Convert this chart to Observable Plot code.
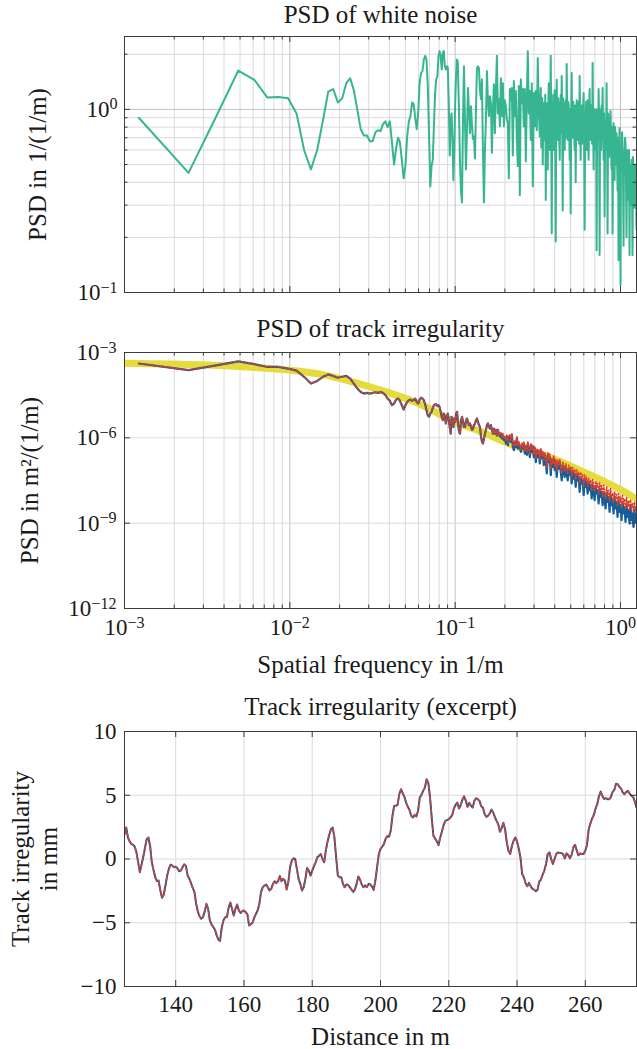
<!DOCTYPE html>
<html><head><meta charset="utf-8">
<script src="https://cdn.jsdelivr.net/npm/d3@7"></script>
<script src="https://cdn.jsdelivr.net/npm/@observablehq/plot@0.6"></script>
<style>
html,body{margin:0;padding:0;background:#fff;overflow:hidden;}
#root{position:relative;width:637px;height:1049px;overflow:hidden;}
#root svg{position:absolute;left:0;overflow:visible;}
</style></head><body><div id="root"></div>
<script>
// ---------- Panel 1: PSD of white noise ----------
const df = 0.00122; // frequency resolution (1/m)
const noiseLowPSD = [0.90,0.45,0.95,1.63,1.45,1.16,1.17,1.15,0.95,0.60,
0.47,0.60,0.87,1.25,1.29,1.09,1.15,1.39,1.48,1.27,
0.99,0.78,0.72,0.72,0.67,0.67,0.75,0.77,0.76,0.83,
0.86,0.80,0.86,0.66,0.50,0.61,0.70,0.66,0.53,0.42,
0.49,0.71,0.86,0.92,1.09,1.07,0.90,0.78,0.96,1.40,
1.58,1.62,1.87,1.96,1.87,1.34,0.71,0.38,0.49,0.53,
0.81,1.23,1.46,1.52,1.96,2.08,1.96,1.65,2.04,2.08,
1.72,1.65,1.72,1.70,1.09,0.56,0.88,0.95,0.66,0.41,
0.62,1.09,1.52,1.87,1.82];
const noiseHFStart = 0.1055, fEnd = 1.25;
const noiseHFPSD = [0.99,0.51,0.36,0.31,0.87,1.72,0.87,0.47,0.77,1.31,
0.99,0.74,1.04,0.82,0.69,0.71,0.54,0.99,1.68,1.72,
1.68,1.27,1.14,1.46,0.60,0.31,0.60,0.88,1.62,1.12,
0.92,1.18,1.08,0.58,0.99,1.37,0.74,1.27,1.96,0.95,
1.14,0.81,1.48,0.92,1.39,0.81,1.12,1.04,0.88,0.84,
0.42,1.29,1.12,1.31,0.56,1.43,0.92,1.26,0.68,0.49,
1.34,0.34,1.46,1.08,1.29,0.81,1.29,0.52,1.12,2.08,
0.95,1.26,0.68,1.39,0.38,1.23,0.81,1.26,0.77,1.91,
1.00,0.71,1.31,0.87,0.50,1.08,0.68,0.32,1.08,0.47,
1.39,0.60,1.96,0.21,0.87,0.60,1.27,0.19,1.45,0.68,
0.99,0.53,1.20,1.52,0.28,0.87,0.60,1.12,1.77,0.68,
1.05,0.53,0.27,1.58,0.77,0.99,0.60,0.40,1.12,0.68,
0.93,1.52,0.53,1.05,0.77,1.23,0.22,0.87,0.60,1.12,
0.53,1.29,0.68,0.99,1.79,0.47,0.87,0.60,0.17,0.99,
1.29,0.16,0.77,1.05,1.31,0.53,0.26,0.87,1.39,0.21,
0.77,0.60,0.98,0.47,0.21,0.84,0.41,0.68,0.74,0.36,
0.15,0.79,0.11,0.53,0.65,0.18,0.47,0.65,0.20,0.60,
0.32,0.16,0.41,0.53,0.16,0.40,0.29,0.36,0.22];
// extra in-between samples of the densest part (from sample 81 on)
const noiseMidFrom = 81;
const noiseHFMidPSD = [1.10,0.62,1.15,0.95,0.75,1.20,0.90,0.60,1.00,0.70,
1.10,0.80,1.05,1.20,0.95,0.70,0.95,0.80,1.15,0.70,
0.95,0.75,0.85,1.15,0.65,1.05,0.70,0.90,1.10,0.75,
1.00,0.85,0.70,1.10,0.70,1.05,0.85,0.75,1.10,0.65,
0.85,1.00,0.65,1.05,0.70,0.95,1.10,0.85,0.70,1.00,
0.75,1.05,0.65,0.80,1.00,0.65,1.00,0.80,0.70,0.85,
1.00,0.60,0.75,0.80,0.95,0.70,0.60,0.70,0.95,0.55,
0.85,0.60,0.80,0.65,0.55,0.80,0.50,0.55,0.70,0.55,
0.45,0.65,0.75,0.45,0.60,0.70,0.40,0.55,0.45,0.60,
0.50,0.30,0.40,0.55,0.30,0.50,0.42];

// ---------- Panel 2: PSD of track irregularity ----------
const trackLowPSD = [4.1e-4,2.4e-4,3.6e-4,4.9e-4,3.9e-4,3.1e-4,3.1e-4,2.7e-4,2.3e-4,1.4e-4,
8.1e-5,1.0e-4,1.4e-4,1.7e-4,1.5e-4,1.3e-4,1.4e-4,1.5e-4,1.2e-4,8.1e-5,
5.4e-5,4.1e-5,3.6e-5,3.8e-5,3.6e-5,3.8e-5,4.0e-5,3.8e-5,4.1e-5,3.8e-5,
3.2e-5,2.4e-5,2.0e-5,1.4e-5,1.6e-5,2.2e-5,2.4e-5,2.0e-5,1.4e-5,9.9e-6,
1.4e-5,1.8e-5,2.1e-5,2.2e-5,2.0e-5,2.1e-5,2.4e-5,1.8e-5,1.6e-5,2.2e-5,
2.6e-5,2.4e-5,2.1e-5,1.5e-5,9.4e-6,6.2e-6,5.5e-6,7.1e-6,8.2e-6,1.1e-5,
1.4e-5,1.5e-5,1.5e-5,1.3e-5,1.4e-5,1.2e-5,8.2e-6,5.5e-6,4.2e-6,7.1e-6,
5.5e-6,3.2e-6,5.5e-6,7.1e-6,4.2e-6,2.4e-6,1.4e-6,5.5e-6,3.6e-6,2.4e-6,
4.8e-6,3.6e-6];
const trackHFStart = 0.1013;
const trackHFPSD = [7.1e-6,8.2e-6,3.2e-6,1.6e-6,1.4e-6,4.2e-6,5.5e-6,3.6e-6,2.4e-6,2.4e-6,
4.2e-6,4.8e-6,3.6e-6,2.8e-6,3.2e-6,2.4e-6,1.9e-6,2.1e-6,2.8e-6,3.2e-6,
4.2e-6,4.8e-6,3.6e-6,2.8e-6,2.4e-6,1.1e-6,7.2e-7,6.3e-7,9.5e-7,1.4e-6,
1.9e-6,2.8e-6,3.2e-6,2.4e-6,2.1e-6,2.8e-6,1.9e-6,1.4e-6,2.1e-6,1.4e-6,
1.9e-6,1.2e-6,1.9e-6,1.4e-6,1.1e-6,1.4e-6,9.5e-7,1.2e-6,8.3e-7,9.5e-7,
6.3e-7,1.1e-6,5.5e-7,9.5e-7,1.2e-6,7.2e-7,1.2e-6,4.8e-7,3.7e-7,7.2e-7,
4.8e-7,9.5e-7,4.2e-7,6.3e-7,4.8e-7,3.2e-7,5.5e-7,4.2e-7,6.3e-7,2.8e-7,
4.8e-7,2.5e-7,6.3e-7,3.7e-7,2.1e-7,5.5e-7,3.2e-7,4.8e-7,2.1e-7,4.2e-7,
1.4e-7,3.7e-7,2.1e-7,3.2e-7,1.25e-7,3.7e-7,1.9e-7,2.8e-7,1.1e-7,2.5e-7,
1.6e-7,5.6e-8,2.5e-7,1.4e-7,2.1e-7,4.9e-8,1.6e-7,9.5e-8,1.9e-7,7.3e-8,
1.4e-7,4.2e-8,1.25e-7,8.3e-8,1.4e-7,6.4e-8,3.2e-8,1.1e-7,7.3e-8,4.2e-8,
9.5e-8,5.6e-8,3.2e-8,8.3e-8,4.9e-8,7.3e-8,2.5e-8,6.4e-8,3.7e-8,5.6e-8,
1.9e-8,4.9e-8,3.2e-8,4.2e-8,1.26e-8,4.2e-8,2.5e-8,3.2e-8,9.6e-9,3.2e-8,
1.9e-8,2.8e-8,1.1e-8,2.5e-8,1.44e-8,2.2e-8,7.4e-9,2.2e-8,1.26e-8,6.4e-9,
1.9e-8,1.1e-8,1.44e-8,4.9e-9,1.65e-8,8.4e-9,1.26e-8,4.3e-9,1.26e-8,6.4e-9,
3.3e-9,1.1e-8,5.6e-9,8.4e-9,2.5e-9,9.6e-9,4.3e-9,6.4e-9,2.2e-9,7.4e-9,
3.3e-9,5.6e-9,1.67e-9,6.4e-9,2.5e-9,4.3e-9,1.27e-9,5.6e-9,2.2e-9,3.7e-9,
1.11e-9,4.3e-9,1.67e-9,2.9e-9,9.7e-10,3.7e-9,1.27e-9,2.2e-9,7.4e-10,2.9e-9,
1.11e-9,1.5e-9];
const redFromIndex = 44; // red estimate departs from blue from this HF sample on
const trackRedHFPSD = [1.24e-6,1.5e-6,1.08e-6,1.42e-6,9.5e-7,1.14e-6,7.8e-7,1.24e-6,6.7e-7,1.08e-6,
1.34e-6,8.3e-7,1.42e-6,6.0e-7,4.8e-7,8.3e-7,5.5e-7,1.08e-6,5.1e-7,7.2e-7,
5.5e-7,3.9e-7,6.7e-7,4.8e-7,7.2e-7,3.5e-7,5.5e-7,3.2e-7,7.2e-7,4.2e-7,
2.8e-7,6.3e-7,3.7e-7,5.5e-7,2.7e-7,4.8e-7,2.0e-7,4.2e-7,2.7e-7,3.7e-7,
1.73e-7,4.2e-7,2.3e-7,3.3e-7,1.55e-7,3.0e-7,2.0e-7,9.0e-8,3.0e-7,1.73e-7,
2.7e-7,7.7e-8,2.0e-7,1.25e-7,2.3e-7,1.01e-7,1.73e-7,6.9e-8,1.64e-7,1.09e-7,
1.73e-7,9.0e-8,5.6e-8,1.43e-7,1.01e-7,6.4e-8,1.25e-7,8.1e-8,5.3e-8,1.09e-7,
7.3e-8,1.01e-7,4.2e-8,9.0e-8,5.6e-8,7.7e-8,3.4e-8,7.3e-8,4.9e-8,6.4e-8,
2.5e-8,6.2e-8,4.0e-8,5.0e-8,2.0e-8,4.9e-8,3.2e-8,4.2e-8,2.0e-8,3.8e-8,
2.5e-8,3.4e-8,1.44e-8,3.4e-8,2.2e-8,1.26e-8,3.1e-8,1.89e-8,2.5e-8,1.04e-8,
2.6e-8,1.52e-8,2.1e-8,8.9e-9,2.2e-8,1.23e-8,7.4e-9,1.89e-8,1.04e-8,1.44e-8,
6.1e-9,1.65e-8,8.4e-9,1.16e-8,5.2e-9,1.30e-8,6.8e-9,1.04e-8,4.3e-9,1.10e-8,
5.6e-9,8.4e-9,3.5e-9,9.6e-9,4.9e-9,7.2e-9,3.0e-9,8.0e-9,3.95e-9,6.1e-9,
2.7e-9,6.8e-9,3.4e-9,4.9e-9,2.3e-9,5.6e-9,2.9e-9,3.7e-9];
const refFreq = [0.001,0.00289,0.00579,0.0101,0.0153,0.0232,0.0372,0.0614,0.0971,0.141,0.223,0.358,0.566,0.748,0.988,1.25];
const refPSD  = [4.2e-4,3.7e-4,3.04e-4,2.39e-4,1.73e-4,9.7e-5,4.36e-5,1.52e-5,3.85e-6,1.71e-6,5.5e-7,2.27e-7,7.3e-8,3.5e-8,1.57e-8,7.0e-9];

// ---------- Panel 3: track irregularity excerpt (mm), 125 m .. 275 m every 0.5 m ----------
const distStart = 125, distStep = 0.5;
const trackMm = [1.95,2.47,1.69,1.38,1.17,1.12,0.96,0.52,-0.26,-1.04,
-0.44,0.18,0.86,1.56,1.69,1.04,-0.26,-0.86,-1.43,-1.74,
-1.69,-2.47,-3.05,-2.79,-2.08,-1.30,-0.78,-0.44,-0.52,-0.65,
-0.60,-0.73,-0.96,-0.91,-0.65,-0.42,-0.55,-1.30,-1.56,-1.90,
-2.27,-2.60,-3.52,-4.14,-4.51,-4.69,-4.56,-4.11,-3.52,-3.91,
-4.82,-5.13,-5.34,-5.55,-5.99,-6.33,-6.43,-5.34,-4.82,-4.56,
-4.56,-3.83,-3.41,-3.91,-4.43,-3.91,-3.57,-4.04,-4.24,-4.09,
-4.04,-4.17,-4.35,-5.21,-5.13,-5.00,-4.61,-4.30,-4.04,-3.52,
-2.60,-2.21,-2.08,-2.00,-2.21,-2.47,-2.34,-1.95,-1.74,-1.90,
-1.74,-1.33,-1.74,-1.56,-1.69,-2.40,-1.82,-0.65,-0.13,0.05,
0.00,-0.78,-1.56,-1.95,-2.47,-2.21,-1.56,-0.70,-0.91,-1.30,
-0.91,-0.57,-0.26,0.13,0.26,0.39,0.00,-0.26,0.70,1.38,
1.90,2.34,2.47,1.69,0.13,-1.30,-1.43,-1.43,-1.95,-2.21,
-2.00,-2.03,-2.21,-2.40,-2.58,-2.40,-1.95,-1.38,-1.61,-2.00,
-2.21,-2.08,-2.21,-1.95,-2.00,-2.16,-2.42,-1.69,-0.65,0.39,
0.78,0.96,1.17,1.59,1.80,1.74,2.21,3.39,4.17,4.17,
4.24,5.08,5.47,5.16,4.87,4.43,4.09,3.85,3.39,3.26,
3.46,3.33,3.78,4.82,5.03,5.34,5.60,6.25,5.99,4.87,
3.26,1.82,1.61,1.38,1.09,1.69,2.16,2.68,2.99,3.05,
3.13,3.26,3.44,3.98,4.24,4.43,3.96,4.22,4.66,4.92,
4.56,4.09,4.40,4.17,4.04,4.56,4.77,4.69,4.56,4.14,
4.04,3.52,3.31,3.39,3.57,3.88,3.65,3.31,2.99,2.73,
2.14,2.42,2.84,2.34,1.30,0.65,0.39,1.04,1.43,1.69,
1.38,0.83,0.13,-1.17,-1.43,-1.90,-2.14,-1.87,-2.14,-2.34,
-2.40,-2.53,-2.42,-1.77,-1.61,-1.22,-0.91,-0.39,0.39,0.52,
0.00,-0.39,0.00,0.39,0.52,0.47,0.47,0.39,0.05,0.44,
0.31,0.05,0.34,0.91,1.12,0.65,0.29,0.44,0.39,0.39,
0.65,1.12,2.34,2.79,3.18,3.46,3.96,4.30,4.92,5.29,
4.95,4.71,4.77,4.69,4.69,4.87,5.26,5.42,5.91,5.86,
5.65,5.52,5.21,5.08,5.26,5.34,5.13,4.97,4.87,4.51,
4.04];

// ---------- ticks ----------
const xMajor = [1e-3,1e-2,1e-1,1];
const xMinor = [2e-3,3e-3,4e-3,5e-3,6e-3,7e-3,8e-3,9e-3,2e-2,3e-2,4e-2,5e-2,6e-2,7e-2,8e-2,9e-2,0.2,0.3,0.4,0.5,0.6,0.7,0.8,0.9];
const p1YMajor = [0.1,1];
const p1YMinor = [0.2,0.3,0.4,0.5,0.6,0.7,0.8,0.9,2];
const p2YMajor = [1e-12,1e-9,1e-6,1e-3];
const p3XTicks = [140,160,180,200,220,240,260];
const p3YTicks = [-10,-5,0,5,10];

// ---------- styling ----------
const FONT = "'Liberation Serif','Times New Roman',serif";
const INK = "#1a1a1a", AX = "#3c3c3c", GMAJ = "#c2c2c2", GMIN = "#dadada";
const GREEN = "#37b591", BLUE = "#135f9d", RED = "#dc3f2a", YELLOW = "#e5db3a";
const style = {fontFamily: FONT, fontSize: "23px", color: INK, background: "transparent", overflow: "visible"};
const LBL = 25; // title / axis-label font size

// geometric grid of sample frequencies (position t in sample units, n samples between f0 and f1)
const gridAt = (f0, f1, n, t) => f0 * Math.pow(f1/f0, t/(n-1));
const nHF = noiseHFPSD.length;
const noiseData = noiseLowPSD.map((p,i)=>({f:(i+1)*df, p}))
  .concat(noiseHFPSD.map((p,i)=>({f: gridAt(noiseHFStart, fEnd, nHF, i), p})))
  .concat(noiseHFMidPSD.map((p,j)=>({f: gridAt(noiseHFStart, fEnd, nHF, noiseMidFrom + 0.5 + j), p})))
  .sort((a,b)=>a.f-b.f);
const nT = trackHFPSD.length;
const trackLow = trackLowPSD.map((p,i)=>({f:(i+1)*df, p}));
const blueData = trackLow.concat(trackHFPSD.map((p,i)=>({f: gridAt(trackHFStart, fEnd, nT, i), p})));
const redData = trackLow.concat(trackHFPSD.map((p,i)=>({f: gridAt(trackHFStart, fEnd, nT, i), p: i < redFromIndex ? p : trackRedHFPSD[i-redFromIndex]})));
const refData = refFreq.map((f,i)=>({f, p:refPSD[i]}));
const excerpt = trackMm.map((v,i)=>({d: distStart + i*distStep, v}));

const powFmt = d => "10^" + Math.round(Math.log10(d));
const numFmt = d => (d < 0 ? "\u2212" : "") + Math.abs(d);

function inward(W, H, xs, ys, len){
  return [
    Plot.tickX(xs, {x: d=>d, insetTop: H-len, stroke: AX}),
    Plot.tickX(xs, {x: d=>d, insetBottom: H-len, stroke: AX}),
    Plot.tickY(ys, {y: d=>d, insetRight: W-len, stroke: AX}),
    Plot.tickY(ys, {y: d=>d, insetLeft: W-len, stroke: AX})
  ];
}
function supify(svg){
  svg.querySelectorAll("text").forEach(t=>{
    const m = /^10\^(-?\d+)$/.exec(t.textContent);
    if(!m) return;
    t.textContent = "10";
    const s = document.createElementNS("http://www.w3.org/2000/svg","tspan");
    s.setAttribute("dy","-0.45em");
    s.setAttribute("style","font-size:70%");
    s.textContent = m[1].replace("-","\u2212");
    t.appendChild(s);
  });
}
const W = 512;
const root = document.getElementById("root");
function place(svg, top){ svg.style.top = top + "px"; supify(svg); root.appendChild(svg); }
const ylab = (s, dx) => Plot.text([s], {text: d=>d, frameAnchor:"left", textAnchor:"middle", lineAnchor:"middle", dx, rotate:-90, fontSize: LBL});
const title = (s, dy) => Plot.text([s], {text: d=>d, frameAnchor:"top", lineAnchor:"middle", dy, fontSize: LBL});
const xlab = (s, dy) => Plot.text([s], {text: d=>d, frameAnchor:"bottom", lineAnchor:"middle", dy, fontSize: LBL});

// Panel 1
const p1 = Plot.plot({
  width: 637, height: 300, marginTop: 36, marginBottom: 8, marginLeft: 124, marginRight: 1,
  x: {type:"log", domain:[1e-3,1.25], axis:null},
  y: {type:"log", domain:[0.1,2.5], axis:null},
  style,
  marks: [
    Plot.ruleX(xMinor, {stroke: GMIN}),
    Plot.ruleY(p1YMinor, {stroke: GMIN}),
    Plot.ruleX(xMajor, {stroke: GMAJ}),
    Plot.ruleY(p1YMajor, {stroke: GMAJ}),
    Plot.line(noiseData, {x:"f", y:"p", stroke: GREEN, strokeWidth: 2, clip: true}),
    ...inward(W, 256, xMajor, p1YMajor, 6),
    ...inward(W, 256, xMinor, p1YMinor, 3.5),
    Plot.frame({stroke: AX}),
    Plot.axisY({ticks: p1YMajor, tickFormat: powFmt, tickSize: 0, tickPadding: 7, label: null}),
    title("PSD of white noise", -22),
    ylab("PSD in 1/(1/m)", -87)
  ]
});
place(p1, 0);

// Panel 2
const p2 = Plot.plot({
  width: 637, height: 380, marginTop: 52, marginBottom: 72, marginLeft: 124, marginRight: 1,
  x: {type:"log", domain:[1e-3,1.25], axis:null},
  y: {type:"log", domain:[1e-12,1e-3], axis:null},
  style,
  marks: [
    Plot.ruleX(xMinor, {stroke: GMIN}),
    Plot.ruleX(xMajor, {stroke: GMAJ}),
    Plot.ruleY(p2YMajor, {stroke: GMIN}),
    Plot.line(refData, {x:"f", y:"p", stroke: YELLOW, strokeWidth: 7, curve:"catmull-rom", clip: true}),
    Plot.line(blueData, {x:"f", y:"p", stroke: BLUE, strokeWidth: 2.2, clip: true}),
    Plot.line(redData, {x:"f", y:"p", stroke: RED, strokeWidth: 1.6, strokeDasharray: "1.5 2.2", clip: true}),
    ...inward(W, 256, xMajor, p2YMajor, 6),
    ...inward(W, 256, xMinor, [], 3.5),
    Plot.frame({stroke: AX}),
    Plot.axisY({ticks: p2YMajor, tickFormat: powFmt, tickSize: 0, tickPadding: 8, label: null}),
    Plot.axisX({ticks: xMajor, tickFormat: powFmt, tickSize: 0, tickPadding: 10, label: null}),
    title("PSD of track irregularity", -24),
    ylab("PSD in m\u00b2/(1/m)", -95),
    xlab("Spatial frequency in 1/m", 56)
  ]
});
place(p2, 300);

// Panel 3
const p3 = Plot.plot({
  width: 637, height: 369, marginTop: 51, marginBottom: 63, marginLeft: 124, marginRight: 1,
  x: {domain:[125,275], axis:null},
  y: {domain:[-10,10], axis:null},
  style,
  marks: [
    Plot.ruleX(p3XTicks, {stroke: GMIN}),
    Plot.ruleY(p3YTicks, {stroke: GMIN}),
    Plot.line(excerpt, {x:"d", y:"v", stroke: BLUE, strokeWidth: 2, clip: true}),
    Plot.line(excerpt, {x:"d", y:"v", stroke: RED, strokeWidth: 1.6, strokeDasharray: "3 3", clip: true}),
    ...inward(W, 255, p3XTicks, p3YTicks, 6),
    Plot.frame({stroke: AX}),
    Plot.axisY({ticks: p3YTicks, tickFormat: numFmt, tickSize: 0, tickPadding: 8, label: null}),
    Plot.axisX({ticks: p3XTicks, tickFormat: d=>String(d), tickSize: 0, tickPadding: 9, label: null}),
    title("Track irregularity (excerpt)", -25),
    ylab("Track irregularity", -104),
    ylab("in mm", -76),
    xlab("Distance in m", 50)
  ]
});
place(p3, 680);
</script></body></html>
